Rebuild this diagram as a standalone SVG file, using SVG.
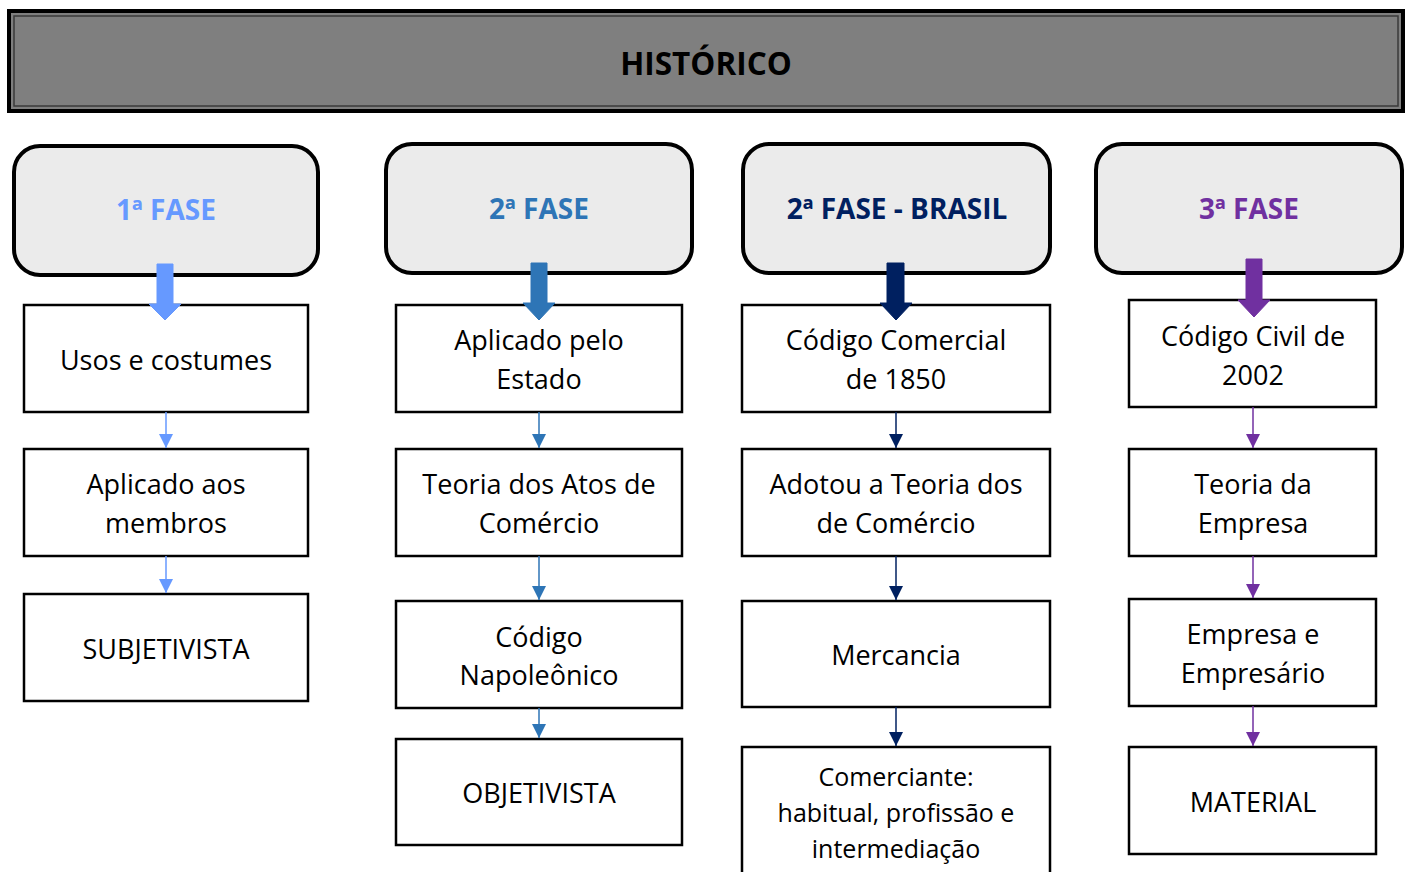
<svg xmlns="http://www.w3.org/2000/svg" width="1408" height="872" viewBox="0 0 1408 872">
<style>
text{font-family:"Open Sans","Noto Sans","Liberation Sans",sans-serif;text-anchor:middle;}
.phase{fill:#ebebeb;stroke:#000;stroke-width:4;}
.ph{font-size:28px;font-weight:bold;}
.box{fill:#fff;stroke:#000;stroke-width:2.5;}
.t{font-size:27px;fill:#000;}
.ts{font-size:25px;fill:#000;}
.c1{stroke:#6699ff;fill:#6699ff;}
.c2{stroke:#2e75b6;fill:#2e75b6;}
.c3{stroke:#002060;fill:#002060;}
.c4{stroke:#7030a0;fill:#7030a0;}
.ln{stroke-width:1.5;fill:none;}
</style>
<defs>
<marker id="m1" viewBox="0 0 14 14" refX="14" refY="7" markerWidth="14" markerHeight="14" markerUnits="userSpaceOnUse" orient="auto"><path d="M0,0 L14,7 L0,14 Z" fill="#6699ff"/></marker>
<marker id="m2" viewBox="0 0 14 14" refX="14" refY="7" markerWidth="14" markerHeight="14" markerUnits="userSpaceOnUse" orient="auto"><path d="M0,0 L14,7 L0,14 Z" fill="#2e75b6"/></marker>
<marker id="m3" viewBox="0 0 14 14" refX="14" refY="7" markerWidth="14" markerHeight="14" markerUnits="userSpaceOnUse" orient="auto"><path d="M0,0 L14,7 L0,14 Z" fill="#002060"/></marker>
<marker id="m4" viewBox="0 0 14 14" refX="14" refY="7" markerWidth="14" markerHeight="14" markerUnits="userSpaceOnUse" orient="auto"><path d="M0,0 L14,7 L0,14 Z" fill="#7030a0"/></marker>
</defs>
<rect width="1408" height="872" fill="#fff"/>
<g id="header">
<rect x="9" y="11" width="1394" height="100" fill="#7f7f7f" stroke="#000" stroke-width="4"/>
<rect x="14" y="16" width="1384" height="90" fill="none" stroke="#3a3a3a" stroke-width="1.5"/>
<text x="706" y="75" style="font-size:31.5px;font-weight:bold;fill:#000">HISTÓRICO</text>
</g>
<g id="fase1"><rect class="phase" x="14" y="146" width="304" height="129" rx="26"/><text class="ph" x="166" y="220" fill="#6699ff">1ª FASE</text></g>
<g id="fase2"><rect class="phase" x="386" y="144" width="306" height="129" rx="26"/><text class="ph" x="539" y="219" fill="#2e75b6">2ª FASE</text></g>
<g id="fase2b"><rect class="phase" x="743" y="144" width="307" height="129" rx="26"/><text class="ph" x="897" y="219" fill="#002060">2ª FASE - BRASIL</text></g>
<g id="fase3"><rect class="phase" x="1096" y="144" width="306" height="129" rx="26"/><text class="ph" x="1249" y="219" fill="#7030a0">3ª FASE</text></g>

<g id="n1a"><rect class="box" x="24" y="305" width="284" height="107"/><text class="t" x="166" y="370">Usos e costumes</text></g>
<g id="n1b"><rect class="box" x="24" y="449" width="284" height="107"/><text class="t" x="166" y="494">Aplicado aos</text><text class="t" x="166" y="533">membros</text></g>
<g id="n1c"><rect class="box" x="24" y="594" width="284" height="107"/><text class="t" x="166" y="659">SUBJETIVISTA</text></g>

<g id="n2a"><rect class="box" x="396" y="305" width="286" height="107"/><text class="t" x="539" y="350">Aplicado pelo</text><text class="t" x="539" y="389">Estado</text></g>
<g id="n2b"><rect class="box" x="396" y="449" width="286" height="107"/><text class="t" x="539" y="494">Teoria dos Atos de</text><text class="t" x="539" y="533">Comércio</text></g>
<g id="n2c"><rect class="box" x="396" y="601" width="286" height="107"/><text class="t" x="539" y="647">Código</text><text class="t" x="539" y="685">Napoleônico</text></g>
<g id="n2d"><rect class="box" x="396" y="739" width="286" height="106"/><text class="t" x="539" y="803">OBJETIVISTA</text></g>

<g id="n3a"><rect class="box" x="742" y="305" width="308" height="107"/><text class="t" x="896" y="350">Código Comercial</text><text class="t" x="896" y="389">de 1850</text></g>
<g id="n3b"><rect class="box" x="742" y="449" width="308" height="107"/><text class="t" x="896" y="494">Adotou a Teoria dos</text><text class="t" x="896" y="533">de Comércio</text></g>
<g id="n3c"><rect class="box" x="742" y="601" width="308" height="106"/><text class="t" x="896" y="665">Mercancia</text></g>
<g id="n3d"><rect class="box" x="742" y="747" width="308" height="130"/><text class="ts" x="896" y="786">Comerciante:</text><text class="ts" x="896" y="822">habitual, profissão e</text><text class="ts" x="896" y="858">intermediação</text></g>

<g id="n4a"><rect class="box" x="1129" y="300" width="247" height="107"/><text class="t" x="1253" y="346">Código Civil de</text><text class="t" x="1253" y="385">2002</text></g>
<g id="n4b"><rect class="box" x="1129" y="449" width="247" height="107"/><text class="t" x="1253" y="494">Teoria da</text><text class="t" x="1253" y="533">Empresa</text></g>
<g id="n4c"><rect class="box" x="1129" y="599" width="247" height="107"/><text class="t" x="1253" y="644">Empresa e</text><text class="t" x="1253" y="683">Empresário</text></g>
<g id="n4d"><rect class="box" x="1129" y="747" width="247" height="107"/><text class="t" x="1253" y="812">MATERIAL</text></g>

<g id="connectors">
<path class="c1" stroke="none" d="M157,264 H173 V304 H181 L165,320 L149,304 H157 Z"/>
<path class="c2" stroke="none" d="M531,263 H547 V303 H555 L539,320 L523,303 H531 Z"/>
<path class="c3" stroke="none" d="M887,263 H904 V303 H912 L896,320 L880,303 H887 Z"/>
<path class="c4" stroke="none" d="M1246,259 H1262 V300 H1270 L1254,317 L1238,300 H1246 Z"/>

<line class="c1 ln" x1="166" y1="412" x2="166" y2="448" marker-end="url(#m1)"/>
<line class="c1 ln" x1="166" y1="556" x2="166" y2="593" marker-end="url(#m1)"/>
<line class="c2 ln" x1="539" y1="412" x2="539" y2="448" marker-end="url(#m2)"/>
<line class="c2 ln" x1="539" y1="556" x2="539" y2="600" marker-end="url(#m2)"/>
<line class="c2 ln" x1="539" y1="708" x2="539" y2="738" marker-end="url(#m2)"/>
<line class="c3 ln" x1="896" y1="412" x2="896" y2="448" marker-end="url(#m3)"/>
<line class="c3 ln" x1="896" y1="556" x2="896" y2="600" marker-end="url(#m3)"/>
<line class="c3 ln" x1="896" y1="707" x2="896" y2="746" marker-end="url(#m3)"/>
<line class="c4 ln" x1="1253" y1="407" x2="1253" y2="448" marker-end="url(#m4)"/>
<line class="c4 ln" x1="1253" y1="556" x2="1253" y2="598" marker-end="url(#m4)"/>
<line class="c4 ln" x1="1253" y1="706" x2="1253" y2="746" marker-end="url(#m4)"/>
</g>
</svg>
